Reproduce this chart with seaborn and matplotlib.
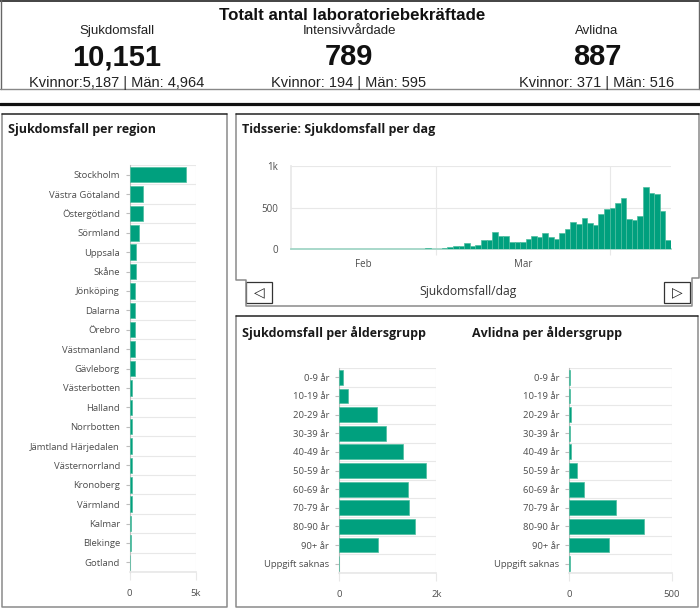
import pandas as pd
import numpy as np
import matplotlib
matplotlib.use("Agg")
import matplotlib.pyplot as plt
import seaborn as sns

W, H = 700, 609
GREEN = "#00a07e"
EDGE = "#4dbd9f"
GRID = "#e8e8e8"
AXIS = "#bdbdbd"
TXT = "#4d4d4d"

# --- data ---
totals_labels = ["Sjukdomsfall", "Intensivvårdade", "Avlidna"]
totals_values = ["10,151", "789", "887"]
totals_sub = ["Kvinnor:5,187 | Män: 4,964", "Kvinnor: 194 | Män: 595", "Kvinnor: 371 | Män: 516"]

regions = ["Stockholm", "Västra Götaland", "Östergötland", "Sörmland", "Uppsala", "Skåne",
           "Jönköping", "Dalarna", "Örebro", "Västmanland", "Gävleborg", "Västerbotten",
           "Halland", "Norrbotten", "Jämtland Härjedalen", "Västernorrland", "Kronoberg",
           "Värmland", "Kalmar", "Blekinge", "Gotland"]
region_cases = [4240, 1010, 1000, 730, 500, 500, 430, 380, 380, 370, 370, 200,
                200, 190, 190, 150, 150, 150, 125, 120, 45]

days = pd.date_range("2020-02-04", "2020-04-11", freq="D")
feb_cases = [1] + [0] * 21 + [1, 3, 12, 4]
mar_cases = [5, 10, 20, 40, 32, 68, 40, 52, 113, 113, 200, 157, 157, 80, 80, 88,
             125, 157, 150, 194, 141, 121, 194, 238, 323, 298, 377, 313, 286, 425, 482]
apr_cases = [496, 560, 609, 367, 355, 403, 752, 669, 657, 460, 109]
daily_cases = feb_cases + mar_cases + apr_cases

age_groups = ["0-9 år", "10-19 år", "20-29 år", "30-39 år", "40-49 år", "50-59 år",
              "60-69 år", "70-79 år", "80-90 år", "90+ år", "Uppgift saknas"]
age_cases = [75, 178, 774, 966, 1322, 1781, 1418, 1438, 1562, 808, 6]
age_deaths = [1, 1, 8, 2, 8, 37, 70, 230, 366, 192, 2]

sns.set_theme(style="white")
plt.rcParams["font.family"] = ["Open Sans", "DejaVu Sans"]
NARROW = ["Liberation Sans", "DejaVu Sans"]

fig = plt.figure(figsize=(W / 100, H / 100), dpi=100)


def px_axes(x0, y0, x1, y1, **kw):
    return fig.add_axes([x0 / W, 1 - y1 / H, (x1 - x0) / W, (y1 - y0) / H], **kw)


bg = px_axes(0, 0, W, H)
bg.set_xlim(0, W)
bg.set_ylim(H, 0)
bg.axis("off")

# --- header ---
bg.plot([0, W], [1, 1], color="#222", lw=1.2)
bg.plot([1, 1], [0, 89], color="#666", lw=1)
bg.plot([699, 699], [0, 89], color="#666", lw=1)
bg.plot([0, W], [89, 89], color="#888", lw=1)
bg.plot([0, W], [103.5, 103.5], color="#111", lw=2.3)
bg.text(352, 16, "Totalt antal laboratoriebekräftade", ha="center", va="center",
        fontsize=12.2, fontweight="bold", family=NARROW, color="#111")
for cx, lab, val, sub in zip([117, 349, 597], totals_labels, totals_values, totals_sub):
    bg.text(cx, 31, lab, ha="center", va="center", fontsize=9.5, family=NARROW, color="#222")
    bg.text(cx, 57, val, ha="center", va="center", fontsize=21, fontweight="bold",
            family=NARROW, color="#111")
    bg.text(cx, 83, sub, ha="center", va="center", fontsize=10.5, family=NARROW, color="#222")

# --- panel frames ---
def frame(pts):
    xs, ys = zip(*pts)
    bg.plot(xs, ys, color="#8a8a8a", lw=1.1)


frame([(2, 114), (2, 607), (227, 607), (227, 114)])
bg.plot([2, 227], [114, 114], color="#222", lw=1.1)
frame([(236, 114), (236, 280), (246, 280), (246, 306), (692, 306), (692, 278), (699, 278), (699, 114)])
bg.plot([236, 699], [114, 114], color="#222", lw=1.1)
frame([(236, 316), (236, 607), (698, 607), (698, 316)])
bg.plot([236, 698], [316, 316], color="#222", lw=1.1)

title_kw = dict(ha="left", va="center", fontsize=9, fontweight="bold", color="#1a1a1a")
bg.text(8, 130, "Sjukdomsfall per region", **title_kw)
bg.text(242, 130, "Tidsserie: Sjukdomsfall per dag", **title_kw)
bg.text(242, 333, "Sjukdomsfall per åldersgrupp", **title_kw)
bg.text(472, 333, "Avlidna per åldersgrupp", **title_kw)

# pager buttons under the time series
for x0, glyph in [(246, "◁"), (664, "▷")]:
    bg.add_patch(plt.Rectangle((x0, 282), 26, 21, fill=False, ec="#333", lw=0.9))
    bg.text(x0 + 13, 292.5, glyph, ha="center", va="center", fontsize=10,
            family=["DejaVu Sans"], color="#222")
bg.text(468, 292, "Sjukdomsfall/dag", ha="center", va="center", fontsize=8.7, color="#333")


def hbar(ax, cats, vals, xmax, ticklabels):
    df = pd.DataFrame({"cat": cats, "val": vals})
    sns.barplot(data=df, y="cat", x="val", orient="h", color=GREEN, saturation=1,
                edgecolor=EDGE, linewidth=0.5, width=0.8, ax=ax, zorder=3)
    n = len(cats)
    ax.set_xlim(0, xmax)
    ax.set_ylim(n - 0.5, -0.5)
    for i in range(n + 1):
        ax.axhline(i - 0.5, color=GRID, lw=0.8, zorder=0)
    ax.axvline(xmax, color=GRID, lw=0.8, zorder=0)
    ax.set_xticks([0, xmax], ticklabels)
    ax.set_xlabel("")
    ax.set_ylabel("")
    for s in ["top", "right"]:
        ax.spines[s].set_visible(False)
    ax.spines["left"].set_color(AXIS)
    ax.spines["bottom"].set_color(GRID)
    ax.spines["left"].set_linewidth(0.8)
    ax.tick_params(axis="y", length=3, width=0.8, color=AXIS, pad=4, labelsize=6.8,
                   labelcolor=TXT, left=True)
    ax.tick_params(axis="x", length=6, width=0.8, color=GRID, pad=6, labelsize=6.8,
                   labelcolor=TXT, bottom=True)
    ax.set_facecolor("none")


hbar(px_axes(129.7, 165, 195.7, 572), regions, region_cases, 5000, ["0", "5k"])
hbar(px_axes(339, 368, 436.3, 573), age_groups, age_cases, 2000, ["0", "2k"])
hbar(px_axes(569.3, 368, 671.7, 573), age_groups, age_deaths, 500, ["0", "500"])

# --- daily time series ---
ax = px_axes(291, 166, 671, 249)
df_ts = pd.DataFrame({"dag": days.strftime("%Y-%m-%d"), "fall": daily_cases})
sns.barplot(data=df_ts, x="dag", y="fall", color=GREEN, saturation=1, width=1.0,
            edgecolor=EDGE, linewidth=0.5, ax=ax, zorder=3)
n = len(days)
ax.set_xlim(-0.5, n - 0.5)
ax.set_ylim(0, 1000)
month_starts = [i - 0.5 for i, d in enumerate(days) if d.day == 1]
ax.set_xticks(month_starts, [""] * len(month_starts))
bounds = [-0.5] + month_starts + [n - 0.5]
mids, mlabels = [], []
for a, b in zip(bounds[:-1], bounds[1:]):
    if b - a >= 15:
        mids.append((a + b) / 2)
        mlabels.append(days[int(a + 0.5)].strftime("%b"))
ax.set_xticks(mids, mlabels, minor=True)
ax.set_yticks([0, 500, 1000], ["0", "500", "1k"])
for m in month_starts:
    ax.axvline(m, color=GRID, lw=0.8, zorder=0)
for yv in [500, 1000]:
    ax.axhline(yv, color=GRID, lw=0.8, zorder=0)
ax.set_xlabel("")
ax.set_ylabel("")
for s in ["top", "right"]:
    ax.spines[s].set_visible(False)
ax.spines["left"].set_color(GRID)
ax.spines["bottom"].set_color("#9ed4c4")
ax.tick_params(axis="x", which="major", length=4, width=0.8, color=GRID, bottom=True)
ax.tick_params(axis="x", which="minor", length=0, pad=7, labelsize=7, labelcolor=TXT)
ax.tick_params(axis="y", length=0, pad=9, labelsize=7, labelcolor=TXT)
ax.set_facecolor("none")

fig.savefig("out.png", dpi=100)
